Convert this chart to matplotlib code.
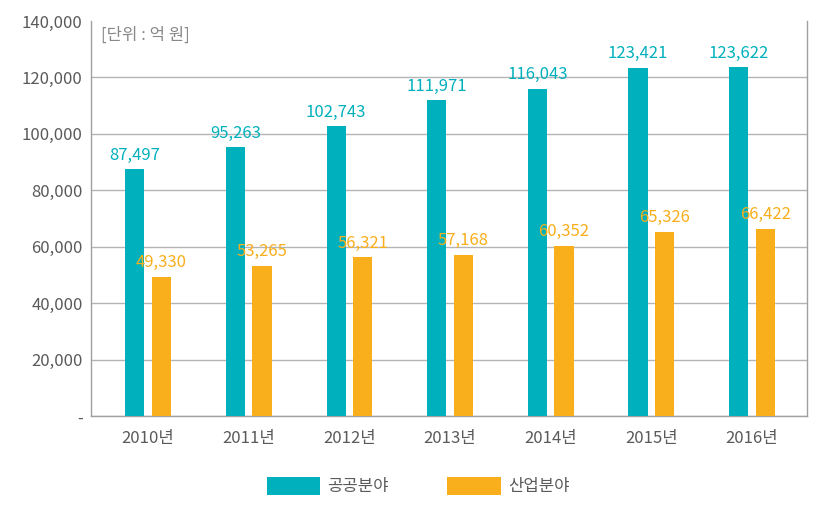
import matplotlib.pyplot as plt
import numpy as np

plt.rcParams['font.family'] = ['Noto Sans CJK KR', 'DejaVu Sans']

# 데이터 (단위: 억 원)
years = ['2010년', '2011년', '2012년', '2013년', '2014년', '2015년', '2016년']
gonggong = [87497, 95263, 102743, 111971, 116043, 123421, 123622]
saneop = [49330, 53265, 56321, 57168, 60352, 65326, 66422]

teal = '#00B0BC'
orange = '#F9AE1B'

fig = plt.figure(figsize=(8.28, 5.08), dpi=100)
ax = fig.add_axes([0.110, 0.181, 0.8646, 0.7776])

x = np.arange(len(years))
w = 0.19
off = 0.132
b1 = ax.bar(x - off, gonggong, w, color=teal, label='공공분야', zorder=3)
b2 = ax.bar(x + off, saneop, w, color=orange, label='산업분야', zorder=3)

# etiquetas encima de las barras
for i in range(len(x)):
    ax.annotate(f"{gonggong[i]:,}", xy=(x[i] - off, gonggong[i]), xytext=(0, 4),
                textcoords='offset points', ha='center', va='bottom',
                color=teal, fontsize=12)
    ax.annotate(f"{saneop[i]:,}", xy=(x[i] + off, saneop[i]), xytext=(0, 4),
                textcoords='offset points', ha='center', va='bottom',
                color=orange, fontsize=12)

ax.set_xlim(-0.566, 6.546)
ax.set_ylim(0, 140000)
yt = np.arange(0, 140001, 20000)
ax.set_yticks(yt)
ax.set_yticklabels(['-' if v == 0 else f"{v:,}" for v in yt])
ax.set_xticks(x)
ax.set_xticklabels(years)
ax.tick_params(axis='both', length=0, colors='#5a5a5a', labelsize=12)
ax.tick_params(axis='x', pad=10)
ax.tick_params(axis='y', pad=6)

ax.yaxis.grid(True, color='#b4b4b4', linewidth=1, zorder=0)
ax.set_axisbelow(True)
ax.yaxis.get_gridlines()[-1].set_visible(False)  # sin linea arriba
for s in ['left', 'bottom', 'right']:
    ax.spines[s].set_color('#a0a0a0')
    ax.spines[s].set_linewidth(1)
ax.spines['top'].set_visible(False)

ax.text(0.014, 0.985, '[단위 : 억 원]', transform=ax.transAxes, ha='left', va='top',
        color='#888888', fontsize=12)

fig.legend(handles=[b1, b2], loc='center', bbox_to_anchor=(0.505, 0.043), ncol=2,
           frameon=False, fontsize=12, handlelength=3.2, handleheight=1.3,
           columnspacing=3.5, handletextpad=0.45, labelcolor='#5a5a5a')

plt.savefig('out.png', dpi=100)
